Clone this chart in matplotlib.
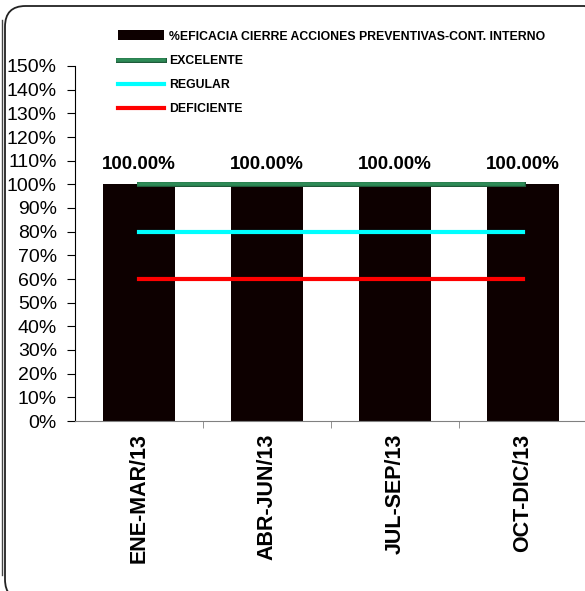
import matplotlib
matplotlib.use("Agg")
import matplotlib.pyplot as plt
import matplotlib.patheffects as pe
from matplotlib.patches import FancyBboxPatch
from matplotlib.lines import Line2D
from matplotlib.ticker import FixedLocator

plt.rcParams['font.family'] = ['Liberation Sans', 'DejaVu Sans']

categories = ["ENE-MAR/13", "ABR-JUN/13", "JUL-SEP/13", "OCT-DIC/13"]
eficacia = [1.0, 1.0, 1.0, 1.0]
excelente = [1.0, 1.0, 1.0, 1.0]
regular = [0.8, 0.8, 0.8, 0.8]
deficiente = [0.6, 0.6, 0.6, 0.6]
yticks = [i / 10 for i in range(0, 16)]

W, H = 585, 591
fig = plt.figure(figsize=(W/100, H/100), dpi=100)
ax = fig.add_axes([75/W, 1 - 421/H, 512/W, (421 - 66)/H])

x = list(range(len(categories)))
bars = ax.bar(x, eficacia, width=0.57, color='#0d0000',
              label='%EFICACIA CIERRE ACCIONES PREVENTIVAS-CONT. INTERNO', zorder=2)
l1, = ax.plot(x, excelente, color='#2e8b57', lw=2.6, label='EXCELENTE', zorder=3,
              path_effects=[pe.Stroke(linewidth=3.6, foreground='#1f5a3a'), pe.Normal()])
l2, = ax.plot(x, regular, color='#00ffff', lw=3, label='REGULAR', zorder=3)
l3, = ax.plot(x, deficiente, color='#ff0000', lw=3, label='DEFICIENTE', zorder=3)

for xi, v in zip(x, eficacia):
    ax.text(xi, v + 0.065, f"{v*100:.2f}%", ha='center', va='baseline',
            fontsize=13.5, fontweight='bold')

ax.set_xlim(-0.5, 3.5)
ax.set_ylim(0, 1.5)
ax.set_yticks(yticks)
ax.set_yticklabels([f"{int(round(t*100))}%" for t in yticks], fontsize=14)
ax.set_xticks(x)
ax.set_xticklabels(categories, rotation=90, fontsize=15.5, fontweight='bold')
ax.xaxis.set_minor_locator(FixedLocator([0.5, 1.5, 2.5]))
ax.tick_params(axis='x', which='major', length=0, pad=9)
ax.tick_params(axis='x', which='minor', length=5, color='#808080')
ax.tick_params(axis='y', length=6, direction='out', pad=7)
for s in ['top', 'right']:
    ax.spines[s].set_visible(False)
ax.spines['bottom'].set_color('#808080')

leg = ax.legend(handles=[bars, l1, l2, l3], loc='upper left',
                bbox_to_anchor=(38/512, 1 + 40/355), frameon=False,
                prop={'size': 8.8, 'weight': 'bold'}, handlelength=3.75,
                labelspacing=0.98, handletextpad=0.45, borderaxespad=0)
for h in leg.legend_handles[:1]:
    h.set_height(7)

border = FancyBboxPatch((5/W, 1 - 600/H), 600/W, 594/H,
                        boxstyle="round,pad=0,rounding_size=0.035",
                        transform=fig.transFigure, fill=False, ec='#222222', lw=1.3)
fig.patches.append(border)
fig.lines.append(Line2D([2/W, 2/W], [1 - 20/H, 1 - 575/H], transform=fig.transFigure,
                        color='#444444', lw=1.0))

fig.savefig("out.png", dpi=100)
